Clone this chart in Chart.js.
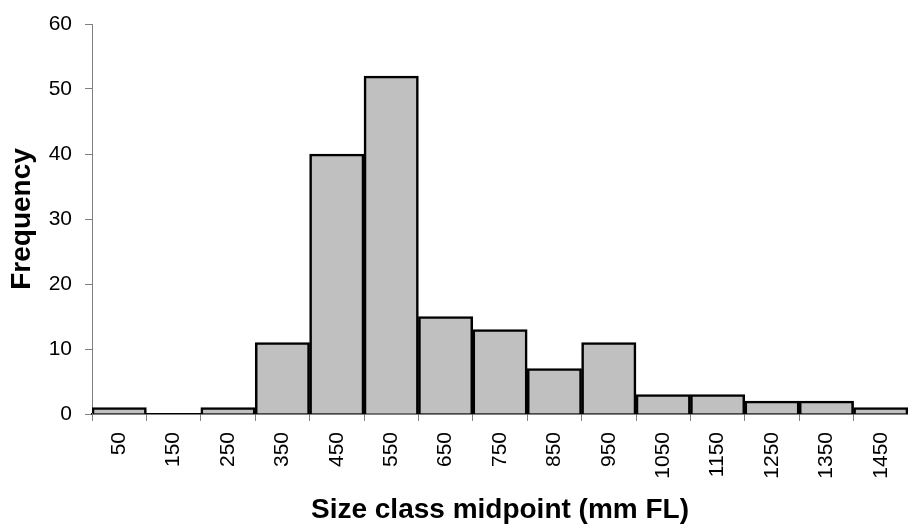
<!DOCTYPE html>
<html><head><meta charset="utf-8">
<script src="https://cdn.jsdelivr.net/npm/chart.js@4/dist/chart.umd.min.js"></script>
<style>html,body{margin:0;padding:0;background:#fff}#wrap{width:908px;height:527px;position:relative}</style>
</head><body><div id="wrap"><canvas id="c"></canvas></div>
<script>
const categories = ["50","150","250","350","450","550","650","750","850","950","1050","1150","1250","1350","1450"];
const frequencies = [1,0,1,11,40,52,15,13,7,11,3,3,2,2,1];
const yTicks = [0,10,20,30,40,50,60];

Chart.defaults.font.family = "'Liberation Sans', Arial, sans-serif";
Chart.defaults.color = '#000';
new Chart(document.getElementById('c'), {
  type: 'bar',
  data: { labels: categories, datasets: [{ data: frequencies, backgroundColor: '#C0C0C0', borderColor: '#000', borderWidth: 2.6, categoryPercentage: 1, barPercentage: 1 }] },
  options: {
    responsive: true, maintainAspectRatio: false, animation: false,
    layout: { padding: { top: 24, right: 0, left: 0, bottom: 0 } },
    plugins: { legend: { display: false }, tooltip: { enabled: false } },
    scales: {
      x: {
        grid: { display: true, drawOnChartArea: false, tickLength: 7, color: '#808080', offset: true },
        border: { color: '#000', width: 1.5 },
        ticks: { minRotation: 90, maxRotation: 90, font: { size: 21 }, padding: 11, autoSkip: false },
        title: { display: true, text: 'Size class midpoint (mm FL)', font: { size: 28, weight: 'bold' }, padding: { top: 0, bottom: 0 } },
        afterFit(s) { s.height = 113; s.paddingLeft = 0; s.paddingRight = 0; }
      },
      y: {
        min: 0, max: 60,
        afterBuildTicks(s) { s.ticks = yTicks.map(v => ({ value: v })); },
        grid: { display: true, drawOnChartArea: false, tickLength: 7, color: '#808080' },
        border: { color: '#808080', width: 1 },
        ticks: { font: { size: 21 }, padding: 13 },
        title: { display: true, text: 'Frequency', font: { size: 28, weight: 'bold' }, padding: { top: 5, bottom: 0 } },
        afterFit(s) { s.width = 92; s.paddingTop = 0; s.paddingBottom = 0; }
      }
    }
  }
});
</script></body></html>
